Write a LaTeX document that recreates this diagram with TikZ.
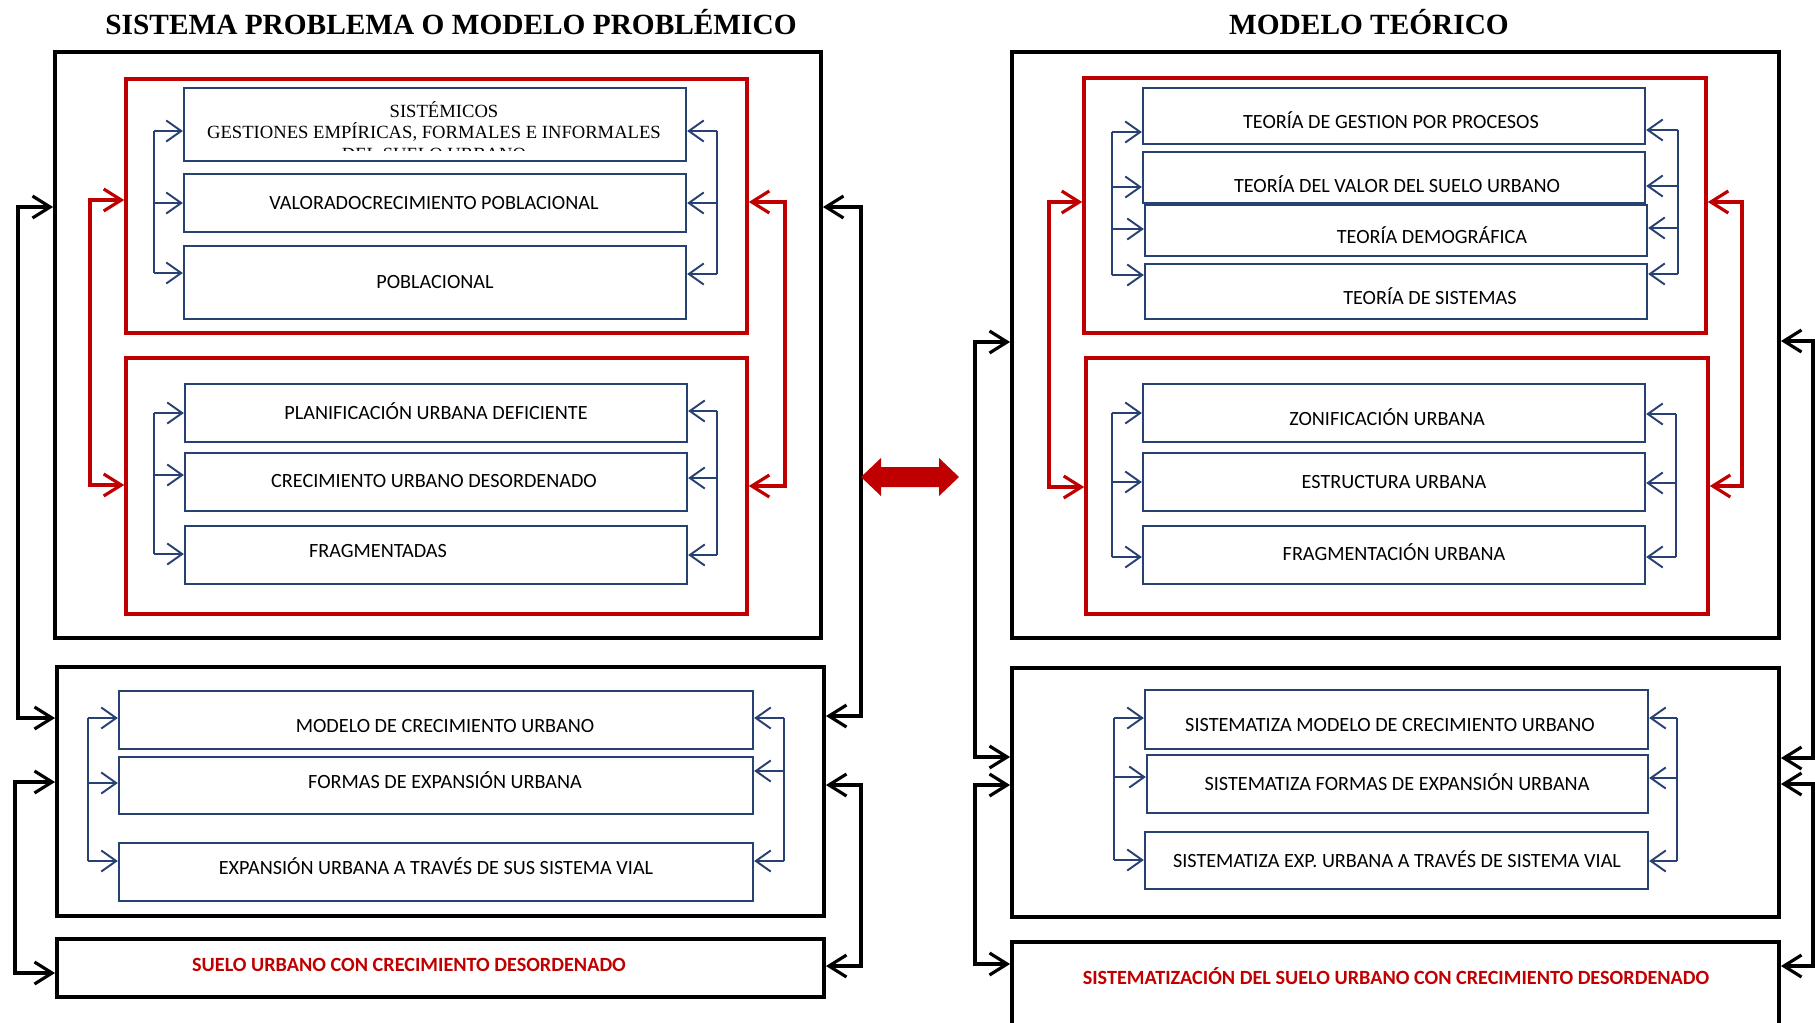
\documentclass[tikz,border=0pt]{standalone}
\usepackage{fontspec}
\setmainfont{Liberation Serif}
\newfontfamily\boxfont{Carlito}
\usetikzlibrary{arrows.meta,fit}
\definecolor{rojo}{RGB}{192,0,0}
\definecolor{azul}{RGB}{40,65,115}
\tikzset{
  caja/.style={draw=black, line width=2.2pt, inner sep=0pt},
  marco/.style={draw=rojo, line width=2pt, inner sep=0pt},
  cuadro/.style={draw=azul, line width=1.3pt, inner sep=0pt},
  texto/.style={font=\boxfont\fontsize{11.5}{13}\selectfont, inner sep=0pt, text height=7.4pt, text depth=0pt},
  serif/.style={font=\fontsize{10.6}{12}\selectfont, inner sep=0pt, text height=7pt, text depth=0pt},
  rotulo/.style={texto, font=\boxfont\bfseries\fontsize{11.5}{13}\selectfont, text=rojo},
  titulo/.style={font=\bfseries\fontsize{16.7}{20}\selectfont, inner sep=0pt, text height=11pt, text depth=0pt},
  bus/.style={draw=azul, line width=1.1pt},
  azflecha/.style={bus, -{Straight Barb[length=8.5pt,width=12pt]}},
  rjflecha/.style={draw=rojo, line width=1.8pt, {Straight Barb[length=10pt,width=12.5pt]}-{Straight Barb[length=10pt,width=12.5pt]}},
  ngflecha/.style={draw=black, line width=1.8pt, {Straight Barb[length=10pt,width=12.5pt]}-{Straight Barb[length=10pt,width=12.5pt]}}
}
\begin{document}
\begin{tikzpicture}[x=0.02cm, y=-0.02cm]
  \clip (0,0) rectangle (1815,1022);

  % Titulos
  \node[titulo] (tit-p) at (451,25) {SISTEMA PROBLEMA O MODELO PROBLÉMICO};
  \node[titulo] (tit-t) at (1369,25) {MODELO TEÓRICO};

  % Sistema problema: cajas negras y marcos rojos
  \node[caja, fit={(55,52) (821,638)}] (p1) {};
  \node[marco, fit={(126,79) (747,333)}] (p1r1) {};
  \node[marco, fit={(126,358) (747,614)}] (p1r2) {};
  \node[caja, fit={(57,667) (824,916)}] (p2) {};
  \node[caja, fit={(57,939) (824,997)}] (p3) {};

  % Sistema problema: cuadros azules
  \node[cuadro, fit={(184,88) (686,161)}] (pa) {};
  \node[cuadro, fit={(184,174) (686,232)}] (pb) {};
  \node[cuadro, fit={(184,246) (686,319)}] (pc) {};
  \node[cuadro, fit={(185,384) (687,442)}] (pd) {};
  \node[cuadro, fit={(185,453) (687,511)}] (pe) {};
  \node[cuadro, fit={(185,526) (687,584)}] (pf) {};
  \node[cuadro, fit={(119,691) (753,749)}] (pg) {};
  \node[cuadro, fit={(119,757) (753,814)}] (ph) {};
  \node[cuadro, fit={(119,843) (753,901)}] (pi) {};

  % Sistema problema: textos
  \node[serif] (pa-t1) at (444,111) {SISTÉMICOS};
  \node[serif] (pa-t2) at (434,132) {GESTIONES EMPÍRICAS, FORMALES E INFORMALES};
  \begin{scope}
    \clip (184,88) rectangle (686,150);
    \node[serif] (pa-t3) at (434,154) {DEL SUELO URBANO};
  \end{scope}
  \node[texto] (pb-t) at (434,203) {VALORADOCRECIMIENTO POBLACIONAL};
  \node[texto] (pc-t) at (435,282) {POBLACIONAL};
  \node[texto] (pd-t) at (436,413) {PLANIFICACIÓN URBANA DEFICIENTE};
  \node[texto] (pe-t) at (434,481) {CRECIMIENTO URBANO DESORDENADO};
  \node[texto] (pf-t) at (378,551) {FRAGMENTADAS};
  \node[texto] (pg-t) at (445,726) {MODELO DE CRECIMIENTO URBANO};
  \node[texto] (ph-t) at (445,782) {FORMAS DE EXPANSIÓN URBANA};
  \node[texto] (pi-t) at (436,868) {EXPANSIÓN URBANA A TRAVÉS DE SUS SISTEMA VIAL};
  \node[rotulo] (p3-t) at (409,965) {SUELO URBANO CON CRECIMIENTO DESORDENADO};

  % Modelo teorico: cajas negras y marcos rojos
  \node[caja, fit={(1012,52) (1779,638)}] (t1) {};
  \node[marco, fit={(1084,78) (1706,333)}] (t1r1) {};
  \node[marco, fit={(1086,358) (1708,614)}] (t1r2) {};
  \node[caja, fit={(1012,668) (1779,917)}] (t2) {};
  \node[caja, fit={(1012,942) (1779,1045)}] (t3) {};

  % Modelo teorico: cuadros azules
  \node[cuadro, fit={(1143,88) (1645,144)}] (ta) {};
  \node[cuadro, fit={(1143,152) (1645,203)}] (tb) {};
  \node[cuadro, fit={(1145,205) (1647,256)}] (tc) {};
  \node[cuadro, fit={(1145,264) (1647,319)}] (td) {};
  \node[cuadro, fit={(1143,384) (1645,442)}] (te) {};
  \node[cuadro, fit={(1143,453) (1645,511)}] (tf) {};
  \node[cuadro, fit={(1143,526) (1645,584)}] (tg) {};
  \node[cuadro, fit={(1145,690) (1648,749)}] (th) {};
  \node[cuadro, fit={(1147,755) (1648,813)}] (ti) {};
  \node[cuadro, fit={(1145,832) (1648,889)}] (tj) {};

  % Modelo teorico: textos
  \node[texto] (ta-t) at (1391,122) {TEORÍA DE GESTION POR PROCESOS};
  \node[texto] (tb-t) at (1397,186) {TEORÍA DEL VALOR DEL SUELO URBANO};
  \node[texto] (tc-t) at (1432,237) {TEORÍA DEMOGRÁFICA};
  \node[texto] (td-t) at (1430,298) {TEORÍA DE SISTEMAS};
  \node[texto] (te-t) at (1387,419) {ZONIFICACIÓN URBANA};
  \node[texto] (tf-t) at (1394,482) {ESTRUCTURA URBANA};
  \node[texto] (tg-t) at (1394,554) {FRAGMENTACIÓN URBANA};
  \node[texto] (th-t) at (1390,725) {SISTEMATIZA MODELO DE CRECIMIENTO URBANO};
  \node[texto] (ti-t) at (1397,784) {SISTEMATIZA FORMAS DE EXPANSIÓN URBANA};
  \node[texto] (tj-t) at (1397,861) {SISTEMATIZA EXP. URBANA A TRAVÉS DE SISTEMA VIAL};
  \node[rotulo] (t3-t) at (1396,978) {SISTEMATIZACIÓN DEL SUELO URBANO CON CRECIMIENTO DESORDENADO};

  % Flechas azules (izquierda y derecha de cada grupo)
  \foreach \y/\n in {131/pa,203/pb,273/pc,413/pd,475/pe,554/pf}{
    \coordinate (l-\n) at (154,\y);
    \draw[azflecha] (l-\n) -- (l-\n -| \n.west);}
  \foreach \y/\n in {131/pa,203/pb,274/pc,411/pd,478/pe,555/pf}{
    \coordinate (r-\n) at (717,\y);
    \draw[azflecha] (r-\n) -- (r-\n -| \n.east);}
  \foreach \y/\n in {718/pg,783/ph,861/pi}{
    \coordinate (l-\n) at (88,\y);
    \draw[azflecha] (l-\n) -- (l-\n -| \n.west);}
  \foreach \y/\n in {718/pg,771/ph,861/pi}{
    \coordinate (r-\n) at (784,\y);
    \draw[azflecha] (r-\n) -- (r-\n -| \n.east);}
  \foreach \y/\n in {132/ta,187/tb,229/tc,275/td,413/te,482/tf,557/tg}{
    \coordinate (l-\n) at (1112,\y);
    \draw[azflecha] (l-\n) -- (l-\n -| \n.west);}
  \foreach \y/\n in {130/ta,186/tb,228/tc,274/td}{
    \coordinate (r-\n) at (1678,\y);
    \draw[azflecha] (r-\n) -- (r-\n -| \n.east);}
  \foreach \y/\n in {414/te,483/tf,557/tg}{
    \coordinate (r-\n) at (1676,\y);
    \draw[azflecha] (r-\n) -- (r-\n -| \n.east);}
  \foreach \y/\n in {718/th,777/ti,860/tj}{
    \coordinate (l-\n) at (1114,\y);
    \draw[azflecha] (l-\n) -- (l-\n -| \n.west);}
  \foreach \y/\n in {718/th,778/ti,861/tj}{
    \coordinate (r-\n) at (1677,\y);
    \draw[azflecha] (r-\n) -- (r-\n -| \n.east);}
  \draw[bus] (l-pa) -- (l-pc);  \draw[bus] (r-pa) -- (r-pc);
  \draw[bus] (l-pd) -- (l-pf);  \draw[bus] (r-pd) -- (r-pf);
  \draw[bus] (l-pg) -- (l-pi);  \draw[bus] (r-pg) -- (r-pi);
  \draw[bus] (l-ta) -- (l-td);  \draw[bus] (r-ta) -- (r-td);
  \draw[bus] (l-te) -- (l-tg);  \draw[bus] (r-te) -- (r-tg);
  \draw[bus] (l-th) -- (l-tj);  \draw[bus] (r-th) -- (r-tj);

  % Flechas rojas entre marcos
  \coordinate (rl1) at (90,200);   \coordinate (rl2) at (90,485);
  \coordinate (rr1) at (785,202);  \coordinate (rr2) at (785,486);
  \draw[rjflecha] (rl1 -| p1r1.west) -- (rl1) -- (rl2) -- (rl2 -| p1r2.west);
  \draw[rjflecha] (rr1 -| p1r1.east) -- (rr1) -- (rr2) -- (rr2 -| p1r2.east);
  \coordinate (sl1) at (1049,202); \coordinate (sl2) at (1049,487);
  \coordinate (sr1) at (1742,202); \coordinate (sr2) at (1742,486);
  \draw[rjflecha] (sl1 -| t1r1.west) -- (sl1) -- (sl2) -- (sl2 -| t1r2.west);
  \draw[rjflecha] (sr1 -| t1r1.east) -- (sr1) -- (sr2) -- (sr2 -| t1r2.east);

  % Flechas negras entre cajas
  \coordinate (k1) at (18,207);    \coordinate (k2) at (18,718);
  \coordinate (k3) at (15,782);    \coordinate (k4) at (15,973);
  \coordinate (k5) at (861,207);   \coordinate (k6) at (861,716);
  \coordinate (k7) at (861,785);   \coordinate (k8) at (861,966);
  \draw[ngflecha] (k1 -| p1.west) -- (k1) -- (k2) -- (k2 -| p2.west);
  \draw[ngflecha] (k3 -| p2.west) -- (k3) -- (k4) -- (k4 -| p3.west);
  \draw[ngflecha] (k5 -| p1.east) -- (k5) -- (k6) -- (k6 -| p2.east);
  \draw[ngflecha] (k7 -| p2.east) -- (k7) -- (k8) -- (k8 -| p3.east);
  \coordinate (m1) at (975,342);   \coordinate (m2) at (975,757);
  \coordinate (m3) at (975,785);   \coordinate (m4) at (975,964);
  \coordinate (m5) at (1813,341);  \coordinate (m6) at (1813,758);
  \coordinate (m7) at (1813,784);  \coordinate (m8) at (1813,966);
  \draw[ngflecha] (m1 -| t1.west) -- (m1) -- (m2) -- (m2 -| t2.west);
  \draw[ngflecha] (m3 -| t2.west) -- (m3) -- (m4) -- (m4 -| t3.west);
  \draw[ngflecha] (m5 -| t1.east) -- (m5) -- (m6) -- (m6 -| t2.east);
  \draw[ngflecha] (m7 -| t2.east) -- (m7) -- (m8) -- (m8 -| t3.east);

  % Doble flecha roja entre ambos modelos
  \fill[rojo] (861,477) -- (881,458) -- (881,467) -- (939,467) -- (939,458)
    -- (959,477) -- (939,496) -- (939,487) -- (881,487) -- (881,496) -- cycle;
\end{tikzpicture}
\end{document}
